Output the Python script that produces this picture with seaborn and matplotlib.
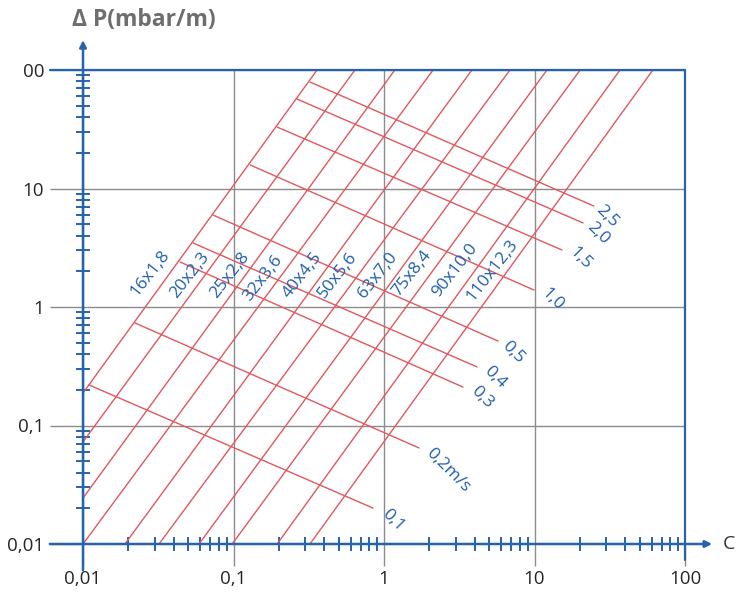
import numpy as np
import pandas as pd
import seaborn as sns
from matplotlib import pyplot as plt
from matplotlib.ticker import FixedLocator, LogLocator, NullFormatter

BLUE = "#2563ad"
TEXT_BLUE = "#1f5fae"
RED = "#e0585e"
GRAY = "#8c8c8c"

# pipe lines (dimension labels), start and end points
pipe_names = ["16x1,8", "20x2,3", "25x2,8", "32x3,6", "40x4,5",
              "50x5,6", "63x7,0", "75x8,4", "90x10,0", "110x12,3"]
pipe_x0 = [0.01, 0.01, 0.01, 0.01, 0.019, 0.032, 0.059, 0.098, 0.195, 0.322]
pipe_y0 = [0.188, 0.0727, 0.0244, 0.01, 0.01, 0.01, 0.01, 0.01, 0.01, 0.01]
pipe_x1 = [0.359, 0.641, 1.18, 2.12, 3.84, 6.87, 12.1, 20.1, 37.0, 61.2]
pipe_y1 = [100, 100, 100, 100, 100, 100, 100, 100, 100, 100]
pipe_lab_x = [0.0279, 0.0514, 0.0948, 0.157, 0.285, 0.494, 0.912, 1.53, 2.96, 5.22]
pipe_lab_y = [1.94, 1.86, 1.86, 1.76, 1.86, 1.86, 1.86, 1.94, 2.05, 2.05]

# velocity lines (m/s)
vel_names = ["0,1", "0,2m/s", "0,3", "0,4", "0,5", "1,0", "1,5", "2,0", "2,5"]
vel_x0 = [0.01096, 0.02215, 0.0441, 0.0538, 0.0731, 0.129, 0.195, 0.264, 0.322]
vel_y0 = [0.220, 0.733, 2.40, 3.47, 5.97, 15.8, 33.0, 56.9, 79.2]
vel_x1 = [0.845, 1.71, 3.35, 4.15, 5.72, 9.93, 15.2, 21.0, 24.8]
vel_y1 = [0.0201, 0.0646, 0.211, 0.312, 0.516, 1.39, 3.03, 5.12, 7.11]
vel_lab_x = [1.15, 2.66, 4.48, 5.47, 7.19, 13.1, 20.1, 26.4, 30.3]
vel_lab_y = [0.0159, 0.0421, 0.174, 0.256, 0.417, 1.15, 2.59, 4.21, 5.86]

major_ticks = [0.01, 0.1, 1, 10, 100]
x_tick_labels = ["0,01", "0,1", "1", "10", "100"]
y_tick_labels = ["0,01", "0,1", "1", "10", "00"]


def segments(names, x0, y0, x1, y1):
    rows = []
    for n, a, b, c, d in zip(names, x0, y0, x1, y1):
        rows.append({"line": n, "x": a, "y": b})
        rows.append({"line": n, "x": c, "y": d})
    return pd.DataFrame(rows)


sns.set_style("white")
plt.rcParams["font.family"] = ["Open Sans", "DejaVu Sans"]

fig = plt.figure(figsize=(7.4, 5.93), dpi=100)
ax = fig.add_axes([83 / 740, 49 / 593, 602 / 740, 474 / 593])
ax.set_xscale("log")
ax.set_yscale("log")
ax.set_xlim(0.01, 100)
ax.set_ylim(0.01, 100)

pipes = segments(pipe_names, pipe_x0, pipe_y0, pipe_x1, pipe_y1)
vels = segments(vel_names, vel_x0, vel_y0, vel_x1, vel_y1)
sns.lineplot(data=pipes, x="x", y="y", units="line", estimator=None, sort=False,
             color=RED, lw=1.0, ax=ax, legend=False)
sns.lineplot(data=vels, x="x", y="y", units="line", estimator=None, sort=False,
             color=RED, lw=1.0, ax=ax, legend=False)

for name, x, y in zip(pipe_names, pipe_lab_x, pipe_lab_y):
    ax.text(x, y, name, rotation=52, ha="center", va="center", color=TEXT_BLUE, fontsize=12.5)
for name, x, y in zip(vel_names, vel_lab_x, vel_lab_y):
    ax.text(x, y, name, rotation=-45, ha="center", va="center", color=TEXT_BLUE, fontsize=12.5)

# grid and ticks (tick lengths are in points: 1 px = 0.72 pt at 100 dpi)
ax.set_axisbelow(True)
ax.grid(True, which="major", color=GRAY, lw=1.0)
ax.xaxis.set_major_locator(FixedLocator(major_ticks))
ax.yaxis.set_major_locator(FixedLocator(major_ticks))
ax.set_xticklabels(x_tick_labels)
ax.set_yticklabels(y_tick_labels)
ax.xaxis.set_minor_locator(LogLocator(base=10, subs=np.arange(2, 10), numticks=20))
ax.yaxis.set_minor_locator(LogLocator(base=10, subs=np.arange(2, 10), numticks=20))
ax.xaxis.set_minor_formatter(NullFormatter())
ax.yaxis.set_minor_formatter(NullFormatter())
ax.tick_params(which="both", bottom=True, left=True, top=False, right=False)
ax.tick_params(axis="x", which="major", direction="out", length=16, width=1.0,
               color=GRAY, labelsize=13.5, pad=3)
ax.tick_params(axis="y", which="major", direction="out", length=24, width=1.0,
               color=GRAY, labelsize=13.5, pad=4)
ax.tick_params(which="minor", direction="inout", length=10, width=1.4, color=BLUE)
ax.set_xlabel("")
ax.set_ylabel("")

for s in ax.spines.values():
    s.set_visible(False)

# axes frame as in the drawing
arrow = dict(arrowstyle="-|>", color=BLUE, lw=1.8, mutation_scale=10, shrinkA=0, shrinkB=0)
ax.annotate("", xy=(0, 1.063), xytext=(0, -0.055), xycoords="axes fraction",
            textcoords="axes fraction", arrowprops=arrow, annotation_clip=False)
ax.annotate("", xy=(1.045, 0), xytext=(-0.055, 0), xycoords="axes fraction",
            textcoords="axes fraction", arrowprops=arrow, annotation_clip=False)
ax.plot([-0.055, 1], [1, 1], transform=ax.transAxes, color=BLUE, lw=1.6, clip_on=False)
ax.plot([1, 1], [1, -0.034], transform=ax.transAxes, color=BLUE, lw=1.6, clip_on=False)

ax.text(1.062, 0, "C", transform=ax.transAxes, ha="left", va="center",
        fontsize=14, color="#333333")
ax.text(-0.018, 1.105, "Δ P(mbar/m)", transform=ax.transAxes, ha="left", va="center",
        fontsize=16.5, fontweight="bold", color="#6d6e70")

fig.savefig("out.png", dpi=100)
